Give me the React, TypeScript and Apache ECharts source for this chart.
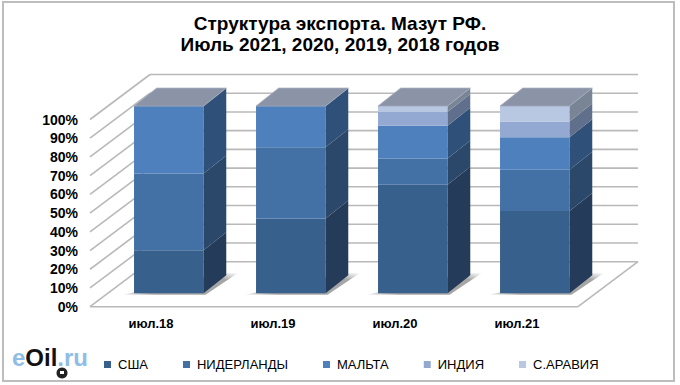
import React, { useEffect, useRef } from "react";
import * as echarts from "echarts";

const categories = ["июл.18", "июл.19", "июл.20", "июл.21"];
const ticks = [0, 10, 20, 30, 40, 50, 60, 70, 80, 90, 100];
const usa = [23, 40, 58, 44];
const netherlands = [41, 38, 14, 22];
const malta = [36, 22, 17.5, 17.3];
const india = [0, 0, 7.3, 8.5];
const saudi = [0, 0, 3.2, 8.2];
const names = ["США", "НИДЕРЛАНДЫ", "МАЛЬТА", "ИНДИЯ", "С.АРАВИЯ"];
const seriesValues = [usa, netherlands, malta, india, saudi];
const frontColors = ["#38608c", "#4371a5", "#4e80bd", "#94a9d2", "#b9c8e2"];
const sideColors = ["#243b59", "#2b4769", "#2f5179", "#5f6f8c", "#798594"];

const WALL_DX = 60, WALL_DY = -45;
const BAR_DX = 17.8, BAR_DY = -13.4;
const DEPTH_DX = 22.7, DEPTH_DY = -18;
const BAR_SHARE = 0.57;
const LINE = "#b9b9b9";

function App() {
  const ref = useRef<HTMLDivElement>(null);
  useEffect(() => {
    const chart = echarts.init(ref.current!, null, { renderer: "svg" });

    const wall = {
      type: "custom", name: "wall", silent: true, z: 1,
      data: ticks.map((t) => [0, t]),
      encode: { x: 0, y: 1 },
      renderItem: (params: any, api: any) => {
        const v = api.value(1);
        const cs = params.coordSys;
        const y = api.coord([0, v])[1];
        const x0 = cs.x, x1 = cs.x + cs.width;
        const line = (a: number[], b: number[]) => ({
          type: "line",
          shape: { x1: a[0], y1: a[1], x2: b[0], y2: b[1] },
          style: { stroke: LINE, lineWidth: 1.6, fill: "none" },
        });
        const children: any[] = [
          line([x0, y], [x0 + WALL_DX, y + WALL_DY]),
          line([x0 + WALL_DX, y + WALL_DY], [x1 + WALL_DX, y + WALL_DY]),
        ];
        if (v === 0) {
          children.push(line([x0, y], [x1, y]));
          children.push(line([x1, y], [x1 + WALL_DX, y + WALL_DY]));
        }
        return { type: "group", children };
      },
    };

    const shadow = {
      type: "custom", name: "shadow", silent: true, z: 2,
      data: categories.map((_, i) => [i, 0]),
      encode: { x: 0, y: 1 },
      renderItem: (_: any, api: any) => {
        const p = api.coord([api.value(0), 0]);
        const half = (api.size([1, 0])[0] * BAR_SHARE) / 2;
        const cx = p[0] + BAR_DX, yb = p[1] + BAR_DY;
        const xl = cx - half, xr = cx + half;
        return {
          type: "polygon",
          shape: { points: [[xl - 11, yb + 1.5], [xr + 2, yb + 1.5], [xr + 34, yb - 20], [xr + 18, yb - 20]] },
          style: {
            fill: new echarts.graphic.LinearGradient(0, 1, 1, 0, [
              { offset: 0, color: "rgba(190,190,190,0.2)" },
              { offset: 0.15, color: "#a6a6a6" },
              { offset: 0.8, color: "#a6a6a6" },
              { offset: 1, color: "rgba(200,200,200,0.2)" },
            ]),
          },
        };
      },
    };

    const bars = seriesValues.map((values, s) => ({
      type: "custom",
      name: names[s],
      z: 3,
      itemStyle: { color: frontColors[s] },
      data: values.map((v, i) => {
        let base = 0;
        for (let k = 0; k < s; k++) base += seriesValues[k][i];
        return [i, base, base + v];
      }),
      encode: { x: 0, y: [1, 2] },
      renderItem: (_: any, api: any) => {
        const cat = api.value(0), lo = api.value(1), hi = api.value(2);
        const half = (api.size([1, 0])[0] * BAR_SHARE) / 2;
        const pLo = api.coord([cat, lo]), pHi = api.coord([cat, hi]);
        const xl = pLo[0] + BAR_DX - half, xr = pLo[0] + BAR_DX + half;
        const yb = pLo[1] + BAR_DY, yt = pHi[1] + BAR_DY;
        const children: any[] = [];
        if (hi > lo) {
          children.push({
            type: "rect",
            shape: { x: xl, y: yt, width: xr - xl, height: yb - yt },
            style: { fill: frontColors[s] },
          });
          children.push({
            type: "polygon",
            shape: { points: [[xr, yb], [xr + DEPTH_DX, yb + DEPTH_DY], [xr + DEPTH_DX, yt + DEPTH_DY], [xr, yt]] },
            style: { fill: sideColors[s] },
          });
        }
        if (s === seriesValues.length - 1) {
          children.push({
            type: "polygon",
            shape: { points: [[xl, yt], [xr, yt], [xr + DEPTH_DX, yt + DEPTH_DY], [xl + DEPTH_DX, yt + DEPTH_DY]] },
            style: { fill: "#8b94a7", stroke: "#a3abbb", lineWidth: 0.8 },
          });
        }
        return { type: "group", children };
      },
    }));

    chart.setOption({
      animation: false,
      backgroundColor: "#ffffff",
      title: {
        text: "Структура экспорта. Мазут РФ.\nИюль 2021, 2020, 2019, 2018 годов",
        left: 335, top: 8, textAlign: "center",
        textStyle: { fontFamily: "Liberation Sans", fontSize: 19, fontWeight: "bold", color: "#000", lineHeight: 21 },
      },
      grid: { left: 90, top: 119.5, width: 488, height: 187.2 },
      xAxis: {
        type: "category", data: categories,
        axisLine: { show: false }, axisTick: { show: false }, splitLine: { show: false },
        axisLabel: { fontFamily: "Liberation Sans", fontSize: 13, fontWeight: "bold", color: "#000", margin: 10 },
      },
      yAxis: {
        type: "value", min: 0, max: 100, interval: 10,
        axisLine: { show: false }, axisTick: { show: false }, splitLine: { show: false },
        axisLabel: { formatter: "{value}%", fontFamily: "Liberation Sans", fontSize: 14, fontWeight: "bold", color: "#000", margin: 12 },
      },
      legend: {
        data: names, left: 99, top: 353, icon: "rect",
        itemWidth: 7, itemHeight: 7, itemGap: 35,
        textStyle: { fontFamily: "Liberation Sans", fontSize: 13, color: "#000", padding: [0, 0, 0, 2] },
      },
      graphic: [
        { type: "rect", z: 0, silent: true, shape: { x: 3, y: 2, width: 671, height: 379 }, style: { fill: "none", stroke: "#bdbdbd", lineWidth: 2 } },
        {
          type: "text", x: 12, y: 345, z: 10, silent: true,
          style: {
            text: "{a|e}{b|Oil}{a|.ru}",
            rich: {
              a: { fontFamily: "Liberation Sans", fontSize: 24, fill: "#8fbde6", fontWeight: "bold" },
              b: { fontFamily: "Liberation Sans", fontSize: 24, fill: "#111", fontWeight: "bold" },
            },
          },
        },
        { type: "circle", z: 11, silent: true, shape: { cx: 62, cy: 373, r: 5.5 }, style: { fill: "#222" } },
        { type: "rect", z: 12, silent: true, shape: { x: 60, y: 371, width: 4, height: 3 }, style: { fill: "#fff" } },
      ],
      series: [wall, shadow, ...bars],
    });
    return () => chart.dispose();
  }, []);
  return <div ref={ref} style={{ position: "absolute", left: 0, top: 0, width: 680, height: 385 }} />;
}

export default App;
